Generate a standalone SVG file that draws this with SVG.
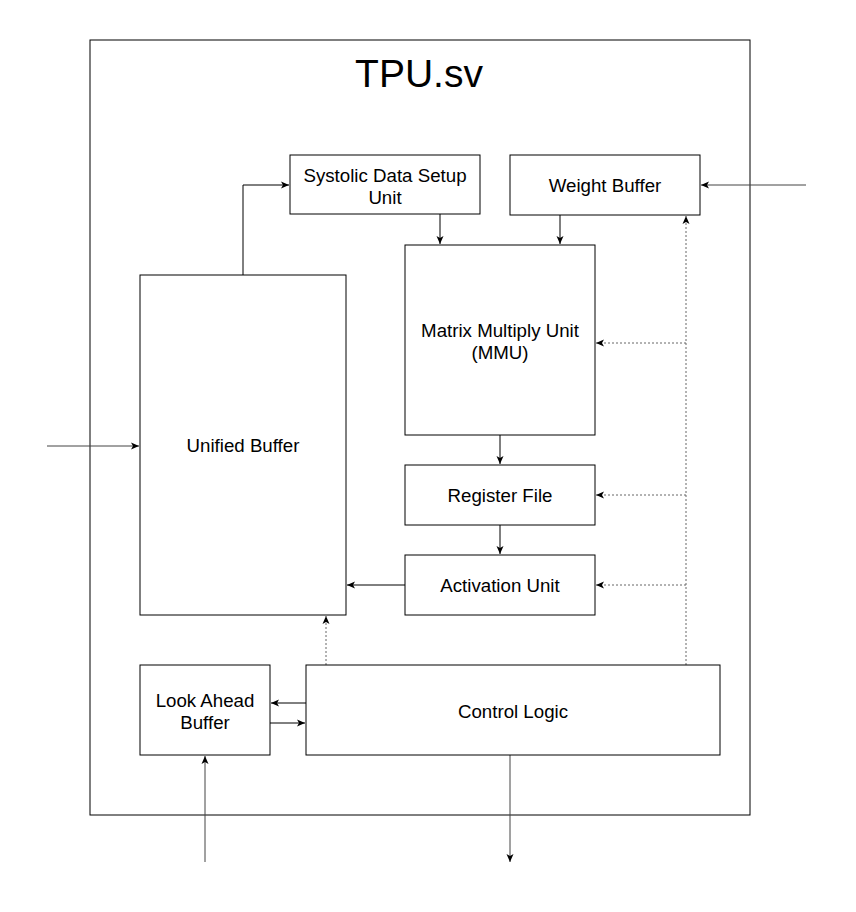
<svg xmlns="http://www.w3.org/2000/svg" width="856" height="912" viewBox="0 0 856 912">
<defs>
<style>
.box{fill:#fff;stroke:#000;stroke-width:1}
.t{font-family:"Liberation Sans",Arial,Helvetica,sans-serif;font-size:18.7px;fill:#000;text-anchor:middle}
.c{fill:none;stroke:#000;stroke-width:1}
.g{fill:none;stroke:#444;stroke-width:1}
.d{fill:none;stroke:#666;stroke-width:1;stroke-dasharray:2 2}
</style>
<marker id="a" markerWidth="9" markerHeight="8" refX="8" refY="4" orient="auto" markerUnits="userSpaceOnUse">
<path d="M0,0.5 L8,4 L0,7.5 L2,4 Z" fill="#000"/>
</marker>
</defs>
<rect width="856" height="912" fill="#fff"/>
<g id="tpu">
<rect class="box" x="90" y="40" width="660" height="775"/>
<text x="419" y="87" font-family="Liberation Sans,Arial,sans-serif" font-size="39" text-anchor="middle">TPU.sv</text>
</g>
<g id="connectors">
<path class="c" d="M243,275 V185 H289" marker-end="url(#a)"/>
<path class="c" d="M440,214 V244" marker-end="url(#a)"/>
<path class="c" d="M560,215 V244" marker-end="url(#a)"/>
<path class="g" d="M806,185 H701" marker-end="url(#a)"/>
<path class="d" d="M686,665 V216" marker-end="url(#a)"/>
<path class="d" d="M686,343 H596" marker-end="url(#a)"/>
<path class="d" d="M686,495 H596" marker-end="url(#a)"/>
<path class="d" d="M686,585 H596" marker-end="url(#a)"/>
<path class="c" d="M500,435 V464" marker-end="url(#a)"/>
<path class="c" d="M500,525 V554" marker-end="url(#a)"/>
<path class="c" d="M405,585 H347" marker-end="url(#a)"/>
<path class="d" d="M326,665 V616" marker-end="url(#a)"/>
<path class="c" d="M306,703 H271" marker-end="url(#a)"/>
<path class="c" d="M270,723 H305" marker-end="url(#a)"/>
<path class="g" d="M205,862 V756" marker-end="url(#a)"/>
<path class="g" d="M510,755 V862" marker-end="url(#a)"/>
<path class="g" d="M47,446 H139" marker-end="url(#a)"/>
</g>
<g id="systolic">
<rect class="box" x="290" y="155" width="190" height="59"/>
<text class="t" x="385" y="182">Systolic Data Setup</text>
<text class="t" x="385" y="204">Unit</text>
</g>
<g id="weight">
<rect class="box" x="510" y="155" width="190" height="60"/>
<text class="t" x="605" y="192">Weight Buffer</text>
</g>
<g id="mmu">
<rect class="box" x="405" y="245" width="190" height="190"/>
<text class="t" x="500" y="337">Matrix Multiply Unit</text>
<text class="t" x="500" y="359">(MMU)</text>
</g>
<g id="regfile">
<rect class="box" x="405" y="465" width="190" height="60"/>
<text class="t" x="500" y="502">Register File</text>
</g>
<g id="activation">
<rect class="box" x="405" y="555" width="190" height="60"/>
<text class="t" x="500" y="592">Activation Unit</text>
</g>
<g id="unified">
<rect class="box" x="140" y="275" width="206" height="340"/>
<text class="t" x="243" y="452">Unified Buffer</text>
</g>
<g id="lookahead">
<rect class="box" x="140" y="665" width="130" height="90"/>
<text class="t" x="205" y="707">Look Ahead</text>
<text class="t" x="205" y="729">Buffer</text>
</g>
<g id="control">
<rect class="box" x="306" y="665" width="414" height="90"/>
<text class="t" x="513" y="718">Control Logic</text>
</g>
</svg>
